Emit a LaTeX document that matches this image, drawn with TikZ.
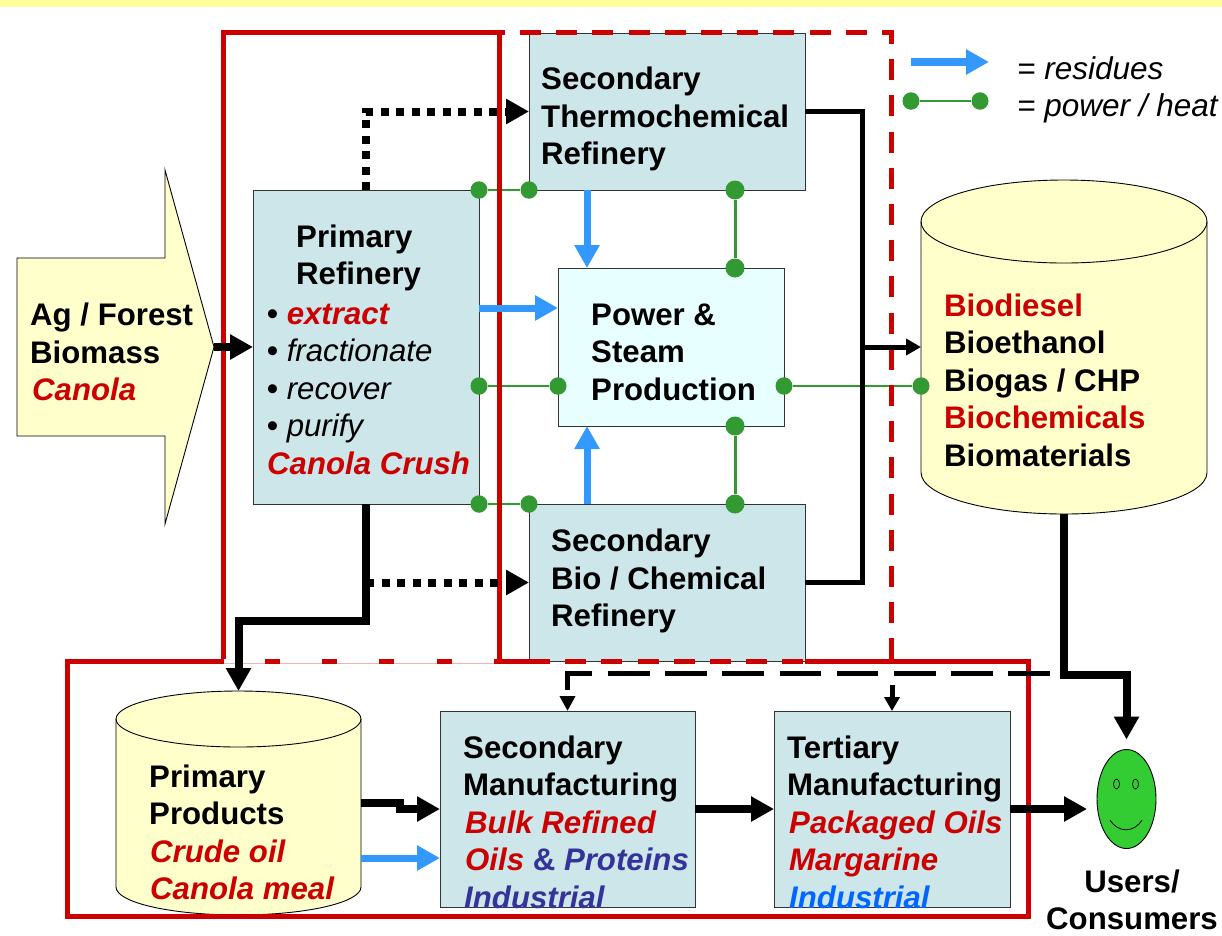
\documentclass[tikz,border=0pt]{standalone}
\usepackage{fontspec}
\setmainfont{Liberation Sans}
\usepackage{xcolor}
\usetikzlibrary{positioning, calc, arrows.meta, shapes.geometric}
\definecolor{frameRed}{HTML}{CC0000}
\definecolor{residueBlue}{HTML}{3399FF}
\definecolor{powerGreen}{HTML}{339933}
\definecolor{smileyGreen}{HTML}{33CC33}
\definecolor{boxTeal}{HTML}{CCE6E9}
\definecolor{boxAqua}{HTML}{E8FFFF}
\definecolor{storeYellow}{HTML}{FFFFCC}
\definecolor{bandYellow}{HTML}{FFFF99}
\definecolor{darkBlue}{HTML}{333399}
\definecolor{brightBlue}{HTML}{0066FF}
\newcommand{\redit}[1]{\textcolor{frameRed}{\textit{#1}}}
% drum body and rim round a named node: name, x radius, y radius
\newcommand{\drum}[3]{
    \draw[line width=0.9pt, fill=storeYellow] ([yshift=-#3]#1.north west) -- ([yshift=#3]#1.south west)
        arc[start angle=180, end angle=360, x radius=#2, y radius=#3]
        -- ([yshift=-#3]#1.north east)
        arc[start angle=0, end angle=180, x radius=#2, y radius=#3] -- cycle;
    \draw[line width=0.9pt] ([yshift=-#3]#1.north west)
        arc[start angle=180, end angle=360, x radius=#2, y radius=#3];
}
\tikzset{
    box/.style={
        rectangle,
        draw=black!80,
        line width=0.9pt,
        fill=boxTeal,
        inner sep=0pt,
        outer sep=0pt
    },
    store/.style={
        rectangle,
        inner sep=0pt,
        outer sep=0pt
    },
    lbl/.style={
        font=\fontsize{31.2}{37.5}\selectfont\bfseries,
        align=left,
        anchor=west,
        inner sep=0pt
    },
    plainlbl/.style={
        font=\fontsize{31.5}{37.5}\selectfont\itshape,
        anchor=west,
        inner sep=0pt
    },
    pdot/.style={
        ellipse,
        fill=powerGreen,
        minimum width=17pt,
        minimum height=17.5pt,
        inner sep=0pt
    },
    bigdot/.style={
        pdot,
        minimum width=19pt,
        minimum height=19pt
    },
    pwr/.style={draw=powerGreen, line width=1.8pt},
    pwrv/.style={draw=powerGreen, line width=3pt},
    flow/.style={-{Triangle[length=23pt,width=24pt]}, line width=8pt},
    res/.style={-{Triangle[length=23pt,width=24pt]}, line width=7pt, draw=residueBlue, color=residueBlue},
    dots/.style={flow, dash pattern=on 8pt off 7.5pt},
    frame/.style={draw=frameRed, line width=5pt}
}
\begin{document}
\begin{tikzpicture}[x=1pt, y=-1pt]
    \useasboundingbox (0,0) rectangle (1222,935);
    \fill[bandYellow] (0,0) rectangle (1222,7);

    % feed arrow
    \draw[line width=0.9pt, fill=storeYellow] (17,258) -- (165,258) -- (165,170) -- (214,347)
        -- (165,524) -- (165,436) -- (17,436) -- cycle;
    \coordinate (feedTip) at (214,347);

    % refineries
    \node[box, minimum width=226pt, minimum height=314pt] (primary) at (366,347) {};
    \node[box, fill=boxAqua, minimum width=226pt, minimum height=158pt, right=79pt of primary] (power) {};
    \node[box, minimum width=276pt, minimum height=157pt, above=78pt of power, xshift=-4pt] (thermo) {};
    \node[box, minimum width=276pt, minimum height=157pt, below=78pt of power, xshift=-4pt] (bio) {};
    \node[store, minimum width=286pt, minimum height=334pt, right=137pt of power] (fuels) {};
    \drum{fuels}{143pt}{41.5pt}

    % manufacturing row
    \node[box, minimum width=255pt, minimum height=196pt] (second) at (567.5,809) {};
    \node[box, minimum width=236pt, minimum height=196pt, right=79pt of second] (tertiary) {};
    \node[store, minimum width=245pt, minimum height=224pt, left=79pt of second, yshift=6pt] (products) {};
    \drum{products}{122.5pt}{28pt}
    \node[ellipse, draw=black, line width=0.9pt, fill=smileyGreen, minimum width=59pt, minimum height=99pt,
        inner sep=0pt, outer sep=0pt, right=87pt of tertiary, yshift=10pt] (smiley) {};
    \node[ellipse, draw=black, line width=0.7pt, minimum width=6pt, minimum height=10pt, inner sep=0pt]
        (eyeL) at ([xshift=-10pt,yshift=15pt]smiley.center) {};
    \node[ellipse, draw=black, line width=0.7pt, minimum width=6pt, minimum height=10pt, inner sep=0pt]
        (eyeR) at ([xshift=9pt,yshift=15pt]smiley.center) {};
    \draw[line width=0.8pt] (1110,820) .. controls (1118,833) and (1134,833) .. (1142,820);

    % power / heat links
    \node[pdot] (pA) at (primary.north east) {};
    \node[pdot] (pB) at (thermo.south west) {};
    \node[pdot] (pC) at ([yshift=-39pt]primary.east) {};
    \node[pdot] (pD) at ([yshift=-39pt]power.west) {};
    \node[pdot] (pE) at (primary.south east) {};
    \node[pdot] (pF) at (bio.north west) {};
    \node[bigdot] (pG) at ([xshift=68pt]thermo.south) {};
    \node[bigdot] (pH) at ([xshift=64pt]power.north) {};
    \node[bigdot] (pI) at ([xshift=64pt]power.south) {};
    \node[bigdot] (pJ) at ([xshift=68pt]bio.north) {};
    \node[pdot] (pK) at ([yshift=-39pt]power.east) {};
    \node[pdot] (pL) at ([yshift=-39pt]fuels.west) {};
    \node[pdot] (keyA) at (911,101) {};
    \node[pdot] (keyB) at (980,101) {};
    \draw[pwr] (pA) -- (pB);
    \draw[pwr] (pC) -- (pD);
    \draw[pwr] (pE) -- (pF);
    \draw[pwrv] (pG) -- (pH);
    \draw[pwrv] (pI) -- (pJ);
    \draw[pwr] (pK) -- (pL);
    \draw[pwr] (keyA) -- (keyB);

    % red frames
    \draw[frame] (223.5,661) -- (223.5,32) -- (505,32);
    \draw[frame] (499,32) -- (499,661);
    \draw[frame] (223.5,661) -- (67,661) -- (67,916.5) -- (1028,916.5) -- (1028,661) -- (805,661);
    \draw[frame] (499,661) -- (529,661);
    \draw[frame, dash pattern=on 21pt off 15.2pt] (529,661) -- (805,661);
    \draw[frame, dash pattern=on 21pt off 15.2pt] (520,32) -- (891,32) -- (891,661);
    \draw[line width=5pt, draw=frameRed!30] (223.5,661) -- (499,661);
    \draw[line width=3.4pt, draw=white] (223.5,661) -- (499,661);
    \draw[frame, dash pattern=on 15pt off 42.2pt] (265,661) -- (499,661);

    % main routes
    \draw[flow] (feedTip) -- (primary.west);
    \draw[dots] (primary.north) |- (thermo.west);
    \draw[dots] (primary.south |- bio.west) -- (bio.west);
    \draw[flow] (primary.south) -- ++(0,117) -| (products.north);
    \draw[line width=5pt] (thermo.east) -- ++(57,0) |- (bio.east);
    \coordinate (bus) at (862,347);
    \draw[line width=5pt, -{Triangle[length=15pt,width=16pt]}] (bus) -- (fuels.west);
    \draw[flow, shorten >=10pt] (fuels.south) -- ++(0,161) -| (smiley.north);
    \coordinate (dashEnd) at (1050,673);
    \draw[line width=5pt, dash pattern=on 41.6pt off 15.6pt, -{Triangle[length=15pt,width=15pt]}] (dashEnd) -| (second.north);
    \draw[line width=5pt, -{Triangle[length=14pt,width=15pt]}] ([yshift=26pt]tertiary.north) -- (tertiary.north);
    \draw[flow] (second.east) -- (tertiary.west);
    \draw[flow, shorten >=10pt] (tertiary.east) -- (tertiary.east -| smiley.west);
    \draw[flow] (products.east) -- ++(39,0) -- ++(0,6) -- (second.west);

    % residues
    \draw[res] ([xshift=-80pt]thermo.south) -- ([xshift=-84pt]power.north);
    \draw[res] ([xshift=-80pt]bio.north) -- ([xshift=-84pt]power.south);
    \draw[res] ([yshift=39pt]primary.east) -- ([yshift=39pt]power.west);
    \draw[res] ([yshift=-55pt]products.east) -- ([yshift=-49pt]second.west);
    \coordinate (keyR) at (911,62);
    \draw[res, line width=8pt] (keyR) -- ++(78,0);

    % texts
    \node[lbl] (feedTxt) at (30,352) {Ag / Forest\\Biomass\\\hspace*{2pt}\redit{Canola}};
    \node[lbl] (primaryHead) at (296,258) {Primary\\Refinery};
    \node[lbl] (primaryTxt) at (267,389) {\textbullet\ \redit{extract}\\
        \textbullet\ \textmd{\textit{fractionate}}\\
        \textbullet\ \textmd{\textit{recover}}\\
        \textbullet\ \textmd{\textit{purify}}\\
        \redit{Canola Crush}};
    \node[lbl] (thermoTxt) at (541,119) {Secondary\\Thermochemical\\Refinery};
    \node[lbl] (powerTxt) at (591,352) {Power \&\\Steam\\Production};
    \node[lbl] (bioTxt) at (551,581) {Secondary\\Bio / Chemical\\Refinery};
    \node[lbl] (fuelsTxt) at (944,380) {\textcolor{frameRed}{Biodiesel}\\Bioethanol\\Biogas / CHP\\\textcolor{frameRed}{Biochemicals}\\Biomaterials};
    \node[lbl] (productsTxt) at (149,832.5) {Primary\\Products\\\hspace*{1pt}\redit{Crude oil}\\\hspace*{1pt}\redit{Canola meal}};
    \node[lbl] (secondTxt) at (463,822) {Secondary\\Manufacturing\\\hspace*{2pt}\redit{Bulk Refined}\\\hspace*{2pt}\redit{Oils} \textcolor{darkBlue}{\& \textit{Proteins}}\\\hspace*{1pt}\textcolor{darkBlue}{\textit{Industrial}}};
    \node[lbl] (tertiaryTxt) at (787,822) {Tertiary\\Manufacturing\\\hspace*{2pt}\redit{Packaged Oils}\\\hspace*{2pt}\redit{Margarine}\\\hspace*{2pt}\textcolor{brightBlue}{\textit{Industrial}}};
    \node[lbl, anchor=center, align=center] (usersTxt) at (1132,900) {Users/\\Consumers};
    \node[plainlbl] (keyTxtA) at (1017,68) {= residues};
    \node[plainlbl] (keyTxtB) at (1017,108) {= power / heat};
\end{tikzpicture}
\end{document}
